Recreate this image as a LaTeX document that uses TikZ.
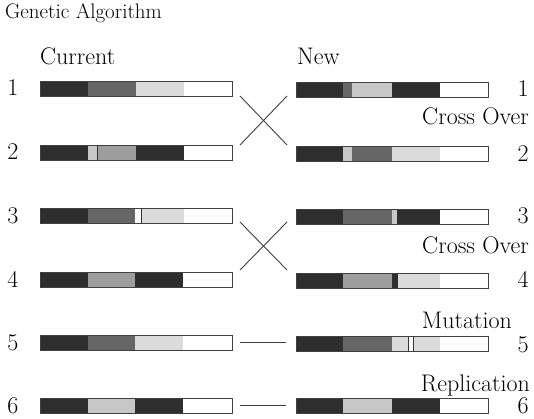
\documentclass[tikz,border=0pt]{standalone}
\colorlet{cD}{black!82}
\colorlet{cDM}{black!60}
\colorlet{cLM}{black!38}
\colorlet{cL}{black!22}
\colorlet{cLL}{black!14}
\tikzset{
  barbox/.style={draw=black!75, line width=0.9pt, minimum width=192pt, minimum height=15pt, inner sep=0pt},
  lbl/.style={text=black, inner sep=0pt, font=\fontsize{24}{28}\selectfont},
  ttl/.style={text=black, inner sep=0pt, font=\fontsize{21}{25}\selectfont},
  conn/.style={draw=black!75, line width=0.9pt},
  divline/.style={draw=black!80, line width=0.8pt}
}
\newcommand\gabar[4]{%
  \foreach \a/\b/\c in {#4} { \fill[\c] (#2+\a,#3-7.5) rectangle (#2+\b,#3+7.5); }
  \node[barbox] (#1) at (#2+96,#3) {};
}
\begin{document}
\begin{tikzpicture}[x=1pt,y=-1pt]
\useasboundingbox[fill=white] (0,0) rectangle (534,419);
% title and headings
\node[ttl, anchor=base west] (title) at (5,19) {Genetic Algorithm};
\node[lbl, anchor=base west] (cur) at (40,65) {Current};
\node[lbl, anchor=base west] (new) at (297,65) {New};
% left bars
\gabar{L1}{40}{89}{0/48/cD, 48/96/cDM, 96/144/cLL}
\gabar{L2}{40}{152.5}{0/48/cD, 48/57/cL, 57/96/cLM, 96/144/cD}
\draw[divline] (97,145) -- (97,160);
\gabar{L3}{40}{216}{0/48/cD, 48/95/cDM, 101/144/cLL}
\draw[divline] (141,208.5) -- (141,223.5);
\gabar{L4}{40}{279.5}{0/48/cD, 48/95/cLM, 95/143/cD}
\gabar{L5}{40}{342.5}{0/48/cD, 48/95/cDM, 95/143/cLL}
\gabar{L6}{40}{405.5}{0/48/cD, 48/95/cL, 95/143/cD}
% right bars
\gabar{R1}{296}{89.5}{0/47/cD, 47/56/cDM, 56/96/cL, 96/144/cD}
\gabar{R2}{296}{154}{0/47/cD, 47/56/cL, 56/96/cDM, 96/144/cLL}
\gabar{R3}{296}{216.5}{0/47/cD, 47/96/cDM, 96/101/cL, 101/144/cD}
\gabar{R4}{296}{280.5}{0/47/cD, 47/96/cLM, 96/102/cD, 102/144/cLL}
\gabar{R5}{296}{344}{0/47/cD, 47/96/cDM, 96/112/cLL, 117/144/cLL}
\draw[divline] (408,336.5) -- (408,351.5);
\draw[divline] (413,336.5) -- (413,351.5);
\gabar{R6}{296}{406}{0/47/cD, 47/96/cL, 96/144/cD}
% left numbers
\foreach \n/\y in {1/96, 2/160, 3/223, 4/287, 5/350, 6/413}
  \node[lbl, anchor=base] (ln\n) at (13,\y) {\n};
% right numbers
\foreach \n/\y in {1/97, 2/162, 3/224, 4/287, 5/352, 6/413}
  \node[lbl, anchor=base] (rn\n) at (523,\y) {\n};
% operation labels
\node[lbl, anchor=base east] (co1) at (529,125) {Cross Over};
\node[lbl, anchor=base east] (co2) at (529,253) {Cross Over};
\node[lbl, anchor=base east] (mut) at (512,328) {Mutation};
\node[lbl, anchor=base east, text depth=0pt] (rep) at (530,391) {Replication};
% crosses
\coordinate (xa1) at (240,96);
\coordinate (xb1) at (287,145);
\coordinate (xc1) at (240,145);
\coordinate (xd1) at (287,96);
\draw[conn] (xa1) -- (xb1);
\draw[conn] (xc1) -- (xd1);
\coordinate (xa2) at (240,222);
\coordinate (xb2) at (287,270);
\coordinate (xc2) at (240,270);
\coordinate (xd2) at (287,222);
\draw[conn] (xa2) -- (xb2);
\draw[conn] (xc2) -- (xd2);
% straight links
\draw[conn, shorten <=8pt, shorten >=10pt] (L5.east) -- (R5.west |- L5.east);
\draw[conn, shorten <=8pt, shorten >=10pt] (L6.east) -- (R6.west |- L6.east);
\end{tikzpicture}
\end{document}
